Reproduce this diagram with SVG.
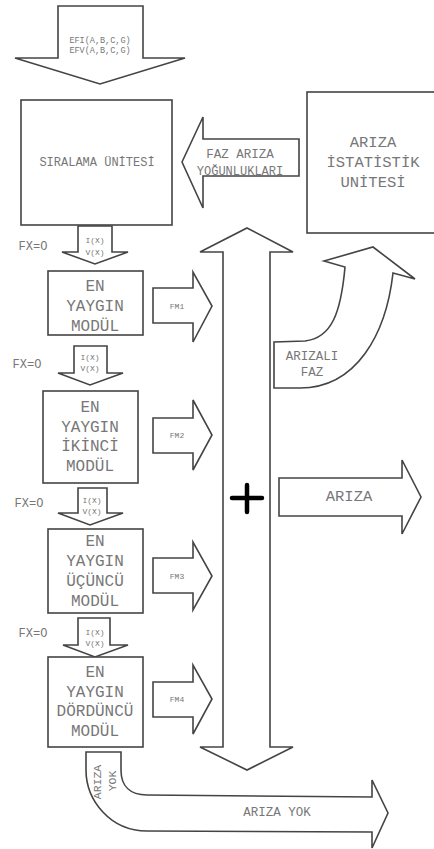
<svg xmlns="http://www.w3.org/2000/svg" width="434" height="849" viewBox="0 0 434 849">
<style>
.s{fill:#fff;stroke:#444;stroke-width:1.6;stroke-linejoin:miter}
.t{font-family:"Liberation Mono","DejaVu Sans Mono",monospace;fill:#777;text-anchor:middle;dominant-baseline:central}
</style>
<rect width="434" height="849" fill="#fff"/>
<g id="connectors">
  <g id="input-arrow">
    <path class="s" d="M58 6 L143 6 L143 58 L185 58 L100 84 L15 58 L58 58 Z"/>
    <text class="t" x="100" y="41" font-size="8.5">EFI(A,B,C,G)</text>
    <text class="t" x="100" y="51" font-size="8.5">EFV(A,B,C,G)</text>
  </g>
  <g id="faz-ariza-arrow">
    <path class="s" d="M182 162 L203 117 L203 139 L299 139 L299 176 L203 176 L203 208 Z"/>
    <text class="t" x="240" y="155" font-size="12.5">FAZ ARIZA</text>
    <text class="t" x="240" y="172" font-size="12">YOĞUNLUKLARI</text>
  </g>
  <g id="ix-1">
    <path class="s" d="M78 226 L112 226 L112 252 L128 252 L95 264 L62 252 L78 252 Z"/>
    <text class="t" x="95" y="240" font-size="8">I(X)</text>
    <text class="t" x="95" y="252" font-size="8">V(X)</text>
    <text class="t" x="33" y="247" font-size="12">FX=O</text>
  </g>
  <g id="ix-2">
    <path class="s" d="M74 346 L107 346 L107 373 L123 373 L90 385 L58 373 L74 373 Z"/>
    <text class="t" x="90" y="357" font-size="8">I(X)</text>
    <text class="t" x="90" y="368" font-size="8">V(X)</text>
    <text class="t" x="27" y="365" font-size="12">FX=O</text>
  </g>
  <g id="ix-3">
    <path class="s" d="M78 488 L107 488 L107 513 L123 513 L90 525 L58 513 L78 513 Z"/>
    <text class="t" x="92" y="500" font-size="8">I(X)</text>
    <text class="t" x="92" y="511" font-size="8">V(X)</text>
    <text class="t" x="29" y="504" font-size="12">FX=O</text>
  </g>
  <g id="ix-4">
    <path class="s" d="M78 618 L110 618 L110 645 L128 645 L95 657 L63 645 L78 645 Z"/>
    <text class="t" x="95" y="632" font-size="8">I(X)</text>
    <text class="t" x="95" y="643" font-size="8">V(X)</text>
    <text class="t" x="33" y="634" font-size="12">FX=O</text>
  </g>
  <g id="fm1">
    <path class="s" d="M153 288 L193 288 L193 272 L212 306 L193 342 L193 323 L153 323 Z"/>
    <text class="t" x="177" y="306" font-size="8">FM1</text>
  </g>
  <g id="fm2">
    <path class="s" d="M153 418 L193 418 L193 400 L212 435 L193 470 L193 453 L153 453 Z"/>
    <text class="t" x="177" y="435" font-size="8">FM2</text>
  </g>
  <g id="fm3">
    <path class="s" d="M153 558 L193 558 L193 542 L212 576 L193 610 L193 593 L153 593 Z"/>
    <text class="t" x="177" y="576" font-size="8">FM3</text>
  </g>
  <g id="fm4">
    <path class="s" d="M153 682 L193 682 L193 665 L212 699 L193 734 L193 717 L153 717 Z"/>
    <text class="t" x="177" y="699" font-size="8">FM4</text>
  </g>
  <g id="sum-arrow">
    <path class="s" d="M247 228 L293 252 L270 252 L270 747 L293 747 L247 770 L200 747 L223 747 L223 252 L200 252 Z"/>
    <path d="M232 498 L262 498 M247 485 L247 512" stroke="#000" stroke-width="4.5" stroke-linecap="round" fill="none"/>
  </g>
  <g id="ariza-arrow">
    <path class="s" d="M279 478 L402 478 L402 460 L421 497 L402 534 L402 516 L279 516 Z"/>
    <text class="t" x="349" y="497" font-size="15.5">ARIZA</text>
  </g>
  <g id="arizali-faz-arrow">
    <path class="s" d="M274 388 L274 342 L305 341 C332 338 341 312 345 267 L324 261 L373 247 L415 279 L393 273 C386 335 356 388 300 388 Z"/>
    <text class="t" x="312" y="357" font-size="12.5">ARIZALI</text>
    <text class="t" x="312" y="373" font-size="12.5">FAZ</text>
  </g>
  <g id="ariza-yok-arrow">
    <path class="s" d="M86 752 L121 752 L121 770 C121 786 130 795 147 795 L372 797 L372 780 L388 813 L372 848 L372 832 L147 831 C110 831 86 800 86 770 Z"/>
    <text class="t" x="277" y="813" font-size="12.5">ARIZA YOK</text>
    <text class="t" font-size="11.5" transform="translate(97 782) rotate(-90)">ARIZA</text>
    <text class="t" font-size="11.5" transform="translate(112 781) rotate(-90)">YOK</text>
  </g>
</g>
<g id="siralama">
  <rect class="s" x="21" y="100" width="151" height="125"/>
  <text class="t" x="97" y="163" font-size="12">SIRALAMA ÜNİTESİ</text>
</g>
<g id="istatistik">
  <rect class="s" x="307" y="92" width="140" height="141"/>
  <text class="t" x="373" y="143" font-size="15.5">ARIZA</text>
  <text class="t" x="373" y="163" font-size="15.5">İSTATİSTİK</text>
  <text class="t" x="373" y="183" font-size="15.5">UNİTESİ</text>
</g>
<g id="modul1">
  <rect class="s" x="48" y="271" width="95" height="64"/>
  <text class="t" x="95" y="287" font-size="16">EN</text>
  <text class="t" x="95" y="307" font-size="16">YAYGIN</text>
  <text class="t" x="95" y="327" font-size="16">MODÜL</text>
</g>
<g id="modul2">
  <rect class="s" x="43" y="391" width="95" height="92"/>
  <text class="t" x="90" y="408" font-size="16">EN</text>
  <text class="t" x="90" y="428" font-size="16">YAYGIN</text>
  <text class="t" x="90" y="447" font-size="16">İKİNCİ</text>
  <text class="t" x="90" y="467" font-size="16">MODÜL</text>
</g>
<g id="modul3">
  <rect class="s" x="48" y="529" width="95" height="84"/>
  <text class="t" x="95" y="542" font-size="16">EN</text>
  <text class="t" x="95" y="562" font-size="16">YAYGIN</text>
  <text class="t" x="95" y="582" font-size="16">ÜÇÜNCÜ</text>
  <text class="t" x="95" y="602" font-size="16">MODÜL</text>
</g>
<g id="modul4">
  <rect class="s" x="48" y="657" width="95" height="90"/>
  <text class="t" x="95" y="673" font-size="16">EN</text>
  <text class="t" x="95" y="693" font-size="16">YAYGIN</text>
  <text class="t" x="95" y="712" font-size="16">DÖRDÜNCÜ</text>
  <text class="t" x="95" y="732" font-size="16">MODÜL</text>
</g>
</svg>
